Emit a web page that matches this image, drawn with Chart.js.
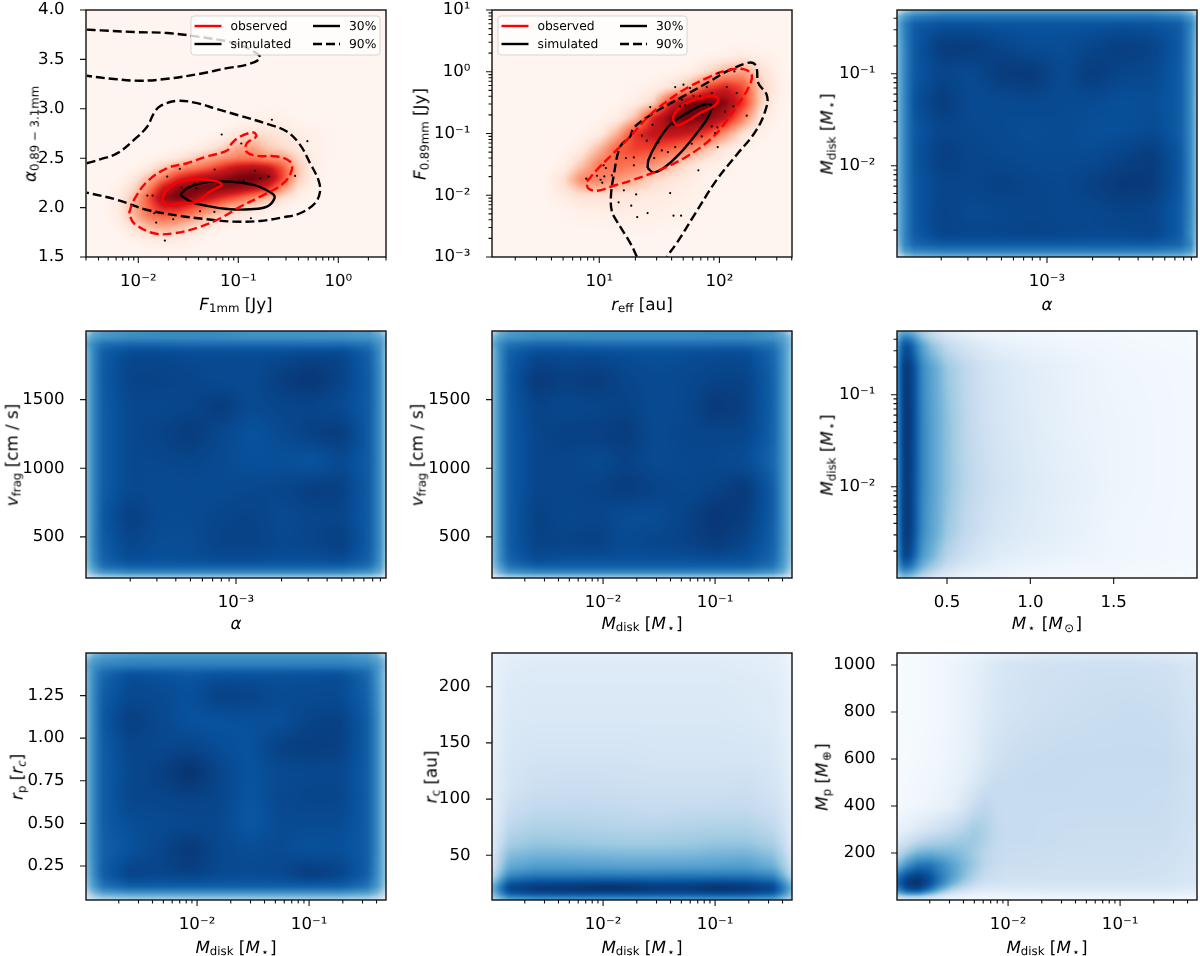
<!DOCTYPE html>
<html><head><meta charset="utf-8">
<script src="https://cdn.jsdelivr.net/npm/chart.js@4"></script>
<style>
html,body{margin:0;padding:0;background:#fff;width:1200px;height:956px;overflow:hidden}
canvas{position:absolute;display:block}
.t{position:absolute;font:16.8px "DejaVu Sans",sans-serif;text-rendering:geometricPrecision;color:#000;white-space:nowrap;line-height:1;transform:translate(-50%,-50%)}
.t.r{transform:translate(-50%,-50%) rotate(-90deg)}
.t sub{font-size:.7em;vertical-align:-.22em;line-height:0}
.t sub.s{padding:0 .12em}
</style></head><body>
<script>
const REDS=['#fff5f0','#fee0d2','#fcbba1','#fc9272','#fb6a4a','#ef3b2c','#cb181d','#a50f15','#67000d'];
const BLUES=['#f7fbff','#deebf7','#c6dbef','#9ecae1','#6baed6','#4292c6','#2171b5','#08519c','#08306b'];

/* ---------- axis knots of the density grids (log10 where the axis is logarithmic) ---------- */
const LOG_ALPHA_KNOTS=[-3.99,-3.94,-3.88,-3.7,-3.5,-3.3,-3.1,-2.9,-2.7,-2.5,-2.3,-2.12,-2.05,-2.01];
const LOG_MDISK_X_KNOTS=[-2.99,-2.92,-2.84,-2.6,-2.33,-2.06,-1.8,-1.53,-1.26,-.99,-.72,-.48,-.39,-.32];
const LOG_MDISK_Y_KNOTS=[-.32,-.38,-.46,-.7,-1,-1.3,-1.6,-1.9,-2.2,-2.5,-2.75,-2.86,-2.93,-2.99];
const VFRAG_KNOTS=[1995,1950,1900,1850,1650,1450,1250,1050,850,650,450,330,280,240,205];
const RP_KNOTS=[1.495,1.46,1.42,1.38,1.25,1.1,.95,.8,.65,.5,.35,.2,.13,.1,.075,.055];

/* ---------- panel 1: F1mm / spectral index ---------- */
const P1_LOGF=[-2.5,-2.35,-2.2,-2.05,-1.9,-1.75,-1.6,-1.45,-1.3,-1.15,-1,-.85,-.7,-.55,-.4,-.25,-.1,.05,.2,.35,.5];
const P1_IDX=[4,3.3,3,2.9,2.8,2.7,2.6,2.5,2.4,2.3,2.2,2.1,2,1.9,1.8,1.7,1.6,1.5];
const P1_Z=[[],[],
[0,0,0,0,0,0,0,0,0,0,0,1,1,1],
[0,0,0,0,0,0,0,0,0,0,1,2,3,2,1],
[0,0,0,0,0,0,0,0,0,1,4,6,8,6,3,2,1],
[0,0,0,0,0,0,0,0,2,5,14,20,14,10,6,3,1],
[0,0,0,0,0,0,1,3,8,18,32,34,20,14,8,3,1],
[0,0,0,0,1,3,8,18,30,38,44,44,38,34,15,4,1],
[0,0,0,1,6,22,38,46,54,70,82,86,80,56,22,4,1],
[0,0,1,6,24,46,68,80,88,92,98,100,94,60,20,3],
[0,0,3,14,40,76,92,98,98,96,92,84,68,38,10,2],
[0,0,5,22,56,92,98,92,80,66,54,38,26,12,3],
[0,0,6,28,52,72,72,58,46,34,22,12,6,2],
[0,0,4,24,44,50,46,36,22,12,6,2],
[0,0,2,10,24,30,24,14,6,2],
[0,0,0,3,8,10,8,4,1],
[0,0,0,0,1,2,2,1],[]];
const P1_DOTS_LOGF=[-1.734,-1.821,-1.841,-1.651,-1.382,-1.239,-.874,-1.91,-1.857,-1.711,-1.585,-1.568,-1.435,-1.419,-1.236,-1.206,-.99,-.947,-.831,-.781,-.698,-.432,-.97,-1.166,-.664,-.309];
const P1_DOTS_IDX=[1.666,1.848,1.943,1.882,1.963,1.956,1.892,2.122,2.122,2.314,2.392,2.203,2.24,2.196,2.385,2.24,2.264,2.27,2.372,2.297,2.314,2.321,2.649,2.74,2.889,2.672];
const P1_RED90_LOGF=[-2.093,-2.043,-1.91,-1.711,-1.512,-1.312,-1.113,-1.063,-.98,-.847,-.821,-.914,-.92,-.814,-.615,-.482,-.465,-.548,-.781,-.98,-1.179,-1.379,-1.645,-1.844,-2.043,-2.093];
const P1_RED90_IDX=[1.943,2.078,2.264,2.399,2.449,2.517,2.578,2.652,2.72,2.76,2.72,2.652,2.568,2.524,2.517,2.466,2.382,2.247,2.111,2.01,1.892,1.807,1.74,1.74,1.841,1.943];
const P1_RED30_LOGF=[-1.761,-1.728,-1.611,-1.412,-1.213,-1.163,-1.279,-1.412,-1.578,-1.711,-1.761];
const P1_RED30_IDX=[2.078,2.162,2.253,2.287,2.264,2.23,2.162,2.061,2.044,2.027,2.078];
const P1_BLK30_LOGF=[-1.578,-1.512,-1.346,-1.113,-.847,-.664,-.638,-.714,-.88,-1.08,-1.312,-1.478,-1.578];
const P1_BLK30_IDX=[2.128,2.196,2.253,2.264,2.23,2.145,2.095,2.01,1.983,1.983,2.017,2.061,2.128];
const P1_BLK90A_LOGF=[-2.515,-2.375,-2.043,-1.711,-1.379,-1.047,-.847,-.781,-.914,-1.113,-1.379,-1.711,-1.977,-2.243,-2.515];
const P1_BLK90A_IDX=[3.801,3.794,3.777,3.767,3.726,3.666,3.581,3.514,3.446,3.412,3.355,3.304,3.284,3.301,3.334];
const P1_BLK90B_LOGF=[-2.515,-2.375,-2.209,-2.043,-1.91,-1.844,-1.777,-1.611,-1.412,-1.213,-.98,-.714,-.515,-.382,-.282,-.199,-.183,-.233,-.382,-.548,-.781,-1.047,-1.312,-1.578,-1.91,-2.209,-2.515];
const P1_BLK90B_IDX=[2.449,2.49,2.551,2.686,2.821,2.956,3.03,3.081,3.057,2.997,2.929,2.848,2.77,2.635,2.449,2.28,2.162,2.044,1.943,1.902,1.865,1.858,1.882,1.916,1.976,2.078,2.152];

/* ---------- panel 2: reff / F0.89mm ---------- */
const P2_LOGR=[.1,.25,.4,.55,.7,.85,1,1.15,1.3,1.45,1.6,1.75,1.9,2.05,2.2,2.35,2.5,2.6];
const P2_LOGFLUX=[1,.75,.5,.25,0,-.25,-.5,-.75,-1,-1.25,-1.5,-1.75,-2,-2.25,-2.5,-2.75,-3];
const P2_Z=[[],[],[],
[0,0,0,0,0,0,0,0,0,0,0,0,1,3,6,3,1],
[0,0,0,0,0,0,0,0,0,0,1,3,14,28,34,12,2],
[0,0,0,0,0,0,0,0,1,3,10,28,60,72,58,18,3],
[0,0,0,0,0,0,0,1,4,16,70,98,100,95,66,16,2],
[0,0,0,0,0,0,1,4,24,72,98,100,95,80,42,7,1],
[0,0,0,0,0,1,4,28,66,80,80,76,62,36,10,2],
[0,0,0,0,1,5,26,54,62,60,52,40,22,7,2],
[0,0,0,0,2,20,46,50,46,38,26,12,4,2],
[0,0,0,1,12,42,44,36,28,16,9,5,2,1],
[0,0,0,1,6,12,12,10,8,6,5,3,1],
[0,0,0,0,1,3,4,5,4,4,3,2,1],
[0,0,0,0,0,1,1,2,2,2,1,1],[],[]];
const P2_DOTS_LOGR=[.892,.981,1.011,1.042,1.036,1.055,1.105,1.025,1.205,1.161,1.266,1.307,1.316,1.402,1.59,1.618,1.681,1.825,1.288,1.288,1.222,1.355,1.396,1.443,1.493,1.424,1.457,1.521,1.571,1.632,1.618,1.673,1.715,1.632,1.687,1.784,1.839,1.895,1.936,1.853,1.853,1.77,1.983,1.964,1.986,1.936,2.047,2.061,2.116,2.144,1.992,2.125,2.227,1.701,1.756];
const P2_DOTS_LOGFLUX=[-1.732,-1.684,-1.749,-1.695,-1.516,-1.56,-1.678,-1.797,-1.921,-2.115,-2.169,-1.986,-2.353,-2.288,-1.964,-2.331,-2.331,-1.597,-1.516,-1.387,-1.398,-1.036,-1.117,-.858,-1.144,-.572,-1.398,-1.274,-1.301,-1.22,-.858,-.561,-.545,-.248,-.453,-.389,-.389,-.248,-.345,-1.047,-.696,-1.166,-.901,-.993,-1.22,-.885,-.642,-.248,-.561,-.345,-.022,.005,-.712,-.21,-.264];
const P2_RED90_LOGR=[.898,.981,1.119,1.258,1.424,1.562,1.729,1.895,2.061,2.199,2.269,2.241,2.144,2.047,1.922,1.729,1.507,1.285,1.119,.981,.906,.898];
const P2_RED90_LOGFLUX=[-1.775,-1.587,-1.317,-1.047,-.696,-.48,-.264,-.103,.022,.043,-.049,-.264,-.561,-.831,-1.101,-1.371,-1.587,-1.749,-1.846,-1.927,-1.883,-1.775];
const P2_RED30_LOGR=[1.612,1.623,1.701,1.839,1.95,1.992,1.95,1.839,1.729,1.645,1.612];
const P2_RED30_LOGFLUX=[-.777,-.696,-.534,-.426,-.389,-.453,-.561,-.669,-.804,-.869,-.777];
const P2_BLK30_LOGR=[1.402,1.41,1.479,1.59,1.729,1.853,1.931,1.909,1.812,1.673,1.535,1.452,1.402];
const P2_BLK30_LOGFLUX=[-1.56,-1.425,-1.155,-.858,-.669,-.545,-.534,-.723,-.993,-1.317,-1.56,-1.63,-1.56];
const P2_BLK90_LOGR=[1.313,1.258,1.147,1.105,1.097,1.119,1.175,1.258,1.285,1.452,1.673,1.895,2.061,2.227,2.283,2.31,2.324,2.393,2.393,2.31,2.144,1.978,1.784,1.645,1.562];
const P2_BLK90_LOGFLUX=[-2.995,-2.774,-2.423,-2.261,-2.018,-1.695,-1.209,-1.047,-.912,-.669,-.426,-.183,.005,.14,.14,.059,-.183,-.372,-.561,-.939,-1.344,-1.749,-2.342,-2.774,-2.995];

/* ---------- panel 3 ---------- */
const P3_Z=[
[22,40,52,58,58,58,58,58,58,58,58,52,40,22],
[42,60,70,75,75,75,75,75,75,75,75,70,60,42],
[50,70,84,88,88,87,87,87,87,88,87,84,68,48],
[46,68,85,96,96,92,89,89,92,95,93,85,66,44],
[46,68,85,92,90,96,97,90,96,92,91,84,66,44],
[46,68,88,96,90,90,91,90,90,88,89,84,66,42],
[46,68,85,92,91,90,89,90,88,88,90,84,66,44],
[46,68,86,95,92,91,90,90,90,93,96,86,66,44],
[46,68,85,92,92,94,92,91,94,97,96,86,66,44],
[46,68,85,93,90,91,92,91,91,93,92,84,66,44],
[46,68,84,93,92,92,93,92,91,91,93,84,64,42],
[40,68,80,84,84,84,84,84,84,84,84,80,68,38],
[34,58,66,70,70,70,70,70,70,70,70,66,58,34],
[20,38,46,50,50,50,50,50,50,50,50,46,38,18]];

/* ---------- panel 4 ---------- */
const P4_Z=[
[30,50,58,62,65,65,65,62,62,62,60,58,46,30],
[45,58,62,66,66,66,66,64,64,64,64,62,56,44],
[52,68,78,80,80,78,78,78,78,78,78,74,62,46],
[46,68,84,91,91,90,90,90,90,92,92,82,64,42],
[46,68,85,93,93,92,90,90,95,98,93,84,66,42],
[46,68,84,91,91,92,96,90,92,92,90,84,66,42],
[46,68,84,91,93,96,91,87,90,94,96,84,66,42],
[46,68,84,91,91,92,90,88,88,86,90,84,66,42],
[46,68,84,91,90,90,90,91,92,95,94,84,66,42],
[46,68,86,95,90,90,92,93,90,92,92,84,66,42],
[46,68,84,92,89,89,93,93,91,92,95,84,66,42],
[44,66,82,90,88,89,90,90,89,89,90,82,64,40],
[40,60,76,82,82,82,82,82,82,82,82,76,60,38],
[32,50,60,66,66,66,66,66,66,66,66,60,50,30],
[16,28,34,38,38,38,38,38,38,38,38,34,28,14]];

/* ---------- panel 5 ---------- */
const P5_Z=[
[30,48,58,62,62,64,64,64,64,66,66,60,48,28],
[44,58,62,66,66,66,66,66,66,66,66,62,56,42],
[50,66,76,80,80,78,78,78,78,78,78,74,60,44],
[44,66,83,90,90,90,89,88,89,90,90,80,62,42],
[44,66,85,97,94,96,92,90,91,93,93,82,62,42],
[44,66,84,93,91,92,93,90,91,97,94,82,62,42],
[44,66,84,92,94,94,96,90,92,92,92,82,62,42],
[44,66,84,92,92,90,93,90,91,91,89,80,62,42],
[44,66,84,92,92,93,96,93,91,93,97,84,62,42],
[44,66,84,94,91,92,89,89,93,98,95,84,62,42],
[44,66,84,93,93,94,90,92,93,96,92,82,62,42],
[42,64,82,90,88,88,88,88,88,89,88,80,60,40],
[38,58,74,82,82,82,82,82,82,82,82,74,58,36],
[30,48,60,66,66,66,66,66,66,66,66,60,48,30],
[14,26,34,38,38,38,38,38,38,38,38,34,26,14]];

/* ---------- panel 6 ---------- */
const MSTAR_KNOTS=[.205,.22,.25,.28,.31,.35,.4,.45,.5,.6,.7,.8,1,1.25,1.5,2];
const P6_LOGM=[-.32,-.38,-.46,-.7,-1.3,-2,-2.5,-2.75,-2.86,-2.93,-2.99];
const P6_Z=[
[35,50,52,50,44,35,26,18,14,8,5,4,3,2,1,1],
[45,65,72,68,58,42,32,24,18,12,8,6,4,3,2,1],
[55,78,88,85,72,56,42,34,26,18,13,9,6,4,3,1],
[60,86,97,95,85,66,56,48,38,28,21,16,11,7,4,2],
[60,85,98,96,86,68,58,50,42,29,22,17,12,7,5,2],
[60,85,97,95,85,68,58,50,42,30,24,19,13,9,5,2],
[60,85,97,95,84,66,56,48,38,27,21,16,12,8,4,2],
[58,82,94,90,78,60,50,40,30,22,16,12,9,6,4,2],
[50,72,80,76,64,50,40,32,24,16,12,9,6,4,3,1],
[40,56,62,58,50,38,30,22,16,10,8,6,4,3,2,1],
[25,36,40,38,32,24,18,12,10,6,4,3,2,1,1,0]];

/* ---------- panel 7 ---------- */
const P7_Z=[
[30,46,54,58,60,60,60,60,60,60,60,56,46,28],
[44,58,62,66,66,66,66,66,66,66,66,62,56,42],
[50,64,70,72,72,72,72,72,72,72,72,70,62,46],
[46,66,80,90,88,86,88,88,88,89,90,80,62,42],
[46,68,84,91,90,88,94,93,90,90,90,82,64,42],
[46,68,86,95,91,87,87,88,88,93,94,84,66,42],
[46,68,84,92,91,92,89,87,94,95,94,84,66,42],
[46,68,84,91,94,100,92,87,90,91,91,84,66,42],
[46,68,84,92,92,93,92,86,91,92,92,84,66,42],
[46,68,84,89,90,91,91,85,90,90,90,84,66,42],
[46,68,82,87,92,97,91,89,90,87,88,84,66,42],
[44,66,84,94,92,94,91,90,91,97,93,84,64,42],
[38,60,76,84,84,84,84,84,84,84,84,76,60,38],
[30,50,62,68,68,68,68,68,68,68,68,62,50,30],
[22,38,46,50,50,50,50,50,50,50,50,46,38,22],
[12,24,32,36,36,36,36,36,36,36,36,32,24,12]];

/* ---------- panel 8 ---------- */
const RC_KNOTS=[229,222,200,170,140,110,90,75,60,50,40,33,27,22,18,14,12,10.5];
const P8_Z=[
[5,7,9,10,10,10,10,10,10,10,10,9,7,5],
[6,9,11,12,12,12,12,12,12,12,11,10,8,6],
[7,10,13,14,14,14,14,14,14,14,13,12,10,7],
[7,11,14,15,15,15,15,15,15,15,14,13,10,8],
[8,12,16,18,18,18,18,17,17,17,17,15,12,8],
[9,13,18,22,23,23,22,21,21,21,22,18,14,9],
[10,15,23,27,27,27,26,25,26,26,26,22,17,11],
[11,18,28,32,32,31,30,30,31,32,32,27,20,12],
[13,24,35,40,39,38,37,37,38,40,40,34,25,14],
[15,30,44,48,48,47,46,46,46,48,49,42,31,17],
[19,36,52,58,58,57,56,56,56,57,58,50,37,22],
[25,44,64,70,70,70,69,69,70,70,70,64,46,28],
[36,58,80,86,86,87,87,85,86,87,86,80,60,40],
[48,72,92,97,98,100,100,97,96,100,98,92,72,50],
[46,70,90,96,97,97,97,95,95,97,96,90,70,48],
[38,58,76,80,81,81,81,80,80,81,80,76,58,40],
[32,48,62,68,68,68,68,68,68,68,68,62,48,34],
[24,36,48,52,52,52,52,52,52,52,52,48,36,26]];

/* ---------- panel 9 ---------- */
const P9_LOGM=[-3,-2.9,-2.8,-2.7,-2.6,-2.5,-2.4,-2.3,-2.2,-2.1,-2,-1.8,-1.5,-1.2,-.9,-.6,-.32];
const MP_KNOTS=[1045,1025,1000,800,600,500,400,300,250,200,150,100,70,40,20,5];
const P9_Z=[
[0,0,1,1,2,3,4,5,7,9,10,12,13,14,14,13,11],
[0,1,1,2,3,4,6,8,10,12,14,16,17,17,17,16,13],
[0,1,1,2,3,5,7,9,12,15,17,19,20,21,21,20,16],
[0,1,1,2,3,5,7,10,13,16,18,20,22,23,24,23,18],
[1,1,2,3,4,6,8,11,16,20,22,24,25,25,25,25,20],
[1,2,3,4,5,7,10,15,21,24,24,25,25,24,24,24,20],
[2,3,4,5,7,10,16,24,28,25,24,24,24,24,24,23,20],
[7,10,14,18,22,26,30,36,32,26,24,24,23,23,23,23,19],
[14,20,28,32,34,36,38,38,32,26,24,24,23,22,22,22,18],
[25,38,48,50,48,46,42,36,28,25,23,23,22,22,22,21,18],
[42,62,74,74,66,56,46,38,28,24,22,22,21,21,21,20,17],
[72,90,96,88,72,58,44,32,24,22,20,20,20,20,20,19,16],
[78,98,100,90,70,50,36,26,20,19,18,18,18,18,18,18,15],
[62,86,90,72,48,30,20,14,12,12,12,12,13,13,13,13,11],
[36,50,50,36,22,12,8,6,5,6,6,7,7,7,7,7,6],
[10,12,12,9,6,4,3,2,2,2,2,2,3,3,3,3,2]];

/* ---------- text ---------- */
const LEGEND_LABELS=['observed','simulated','30%','90%'];
const P1_Y_TICKS=['1.5','2.0','2.5','3.0','3.5','4.0'];
const VFRAG_TICKS=['500','1000','1500'];
const MSTAR_TICKS=['0.5','1.0','1.5'];
const RP_TICKS=['0.25','0.50','0.75','1.00','1.25'];
const RC_TICKS=['50','100','150','200'];
const MP_TICKS=['200','400','600','800','1000'];
const MDISK='<i>M</i><sub>disk</sub> [<i>M</i><sub class="s">⋆</sub>]';
const ALPHA='<i>α</i>';
const VFRAG='<i>v</i><sub>frag</sub> [cm / s]';

const pow=a=>a.map(v=>Math.pow(10,v));
const SUP={'-':'⁻','0':'⁰','1':'¹','2':'²','3':'³','4':'⁴','5':'⁵','6':'⁶','7':'⁷','8':'⁸','9':'⁹'};
function logLabel(v){const e=Math.log10(v),r=Math.round(e);if(Math.abs(e-r)>1e-6)return '';return '10'+String(r).split('').map(c=>SUP[c]).join('');}
function logTicks(min,max){const out=[];for(let e=Math.floor(Math.log10(min));e<=Math.ceil(Math.log10(max));e++)for(let d=1;d<=9;d++){const v=d*Math.pow(10,e);if(v>=min*(1-1e-9)&&v<=max*(1+1e-9))out.push(v);}return out;}

function line(xs,ys,color,dashed,label){return{type:'scatter',label,data:xs.map((x,i)=>({x,y:ys[i]})),showLine:true,pointRadius:0,borderColor:color,backgroundColor:color,borderWidth:2.4,borderDash:dashed?[9,4]:[],tension:.38,fill:false};}
function dots(xs,ys){return{type:'scatter',label:'sources',data:xs.map((x,i)=>({x,y:ys[i]})),pointRadius:1.1,pointBorderWidth:0,backgroundColor:'#000',borderColor:'#000',showLine:false};}
function heat(xs,ys,rows,cmap,soft){const data=[];ys.forEach((y,j)=>xs.forEach((x,i)=>data.push({x,y,v:(rows[j][i]||0)/100})));return{type:'scatter',label:'density',data,gridX:xs.length,gridY:ys.length,cmap,soft,pointRadius:0,showLine:false};}

function hex(c){return[parseInt(c.slice(1,3),16),parseInt(c.slice(3,5),16),parseInt(c.slice(5,7),16)];}
const heatPlugin={id:'heat',beforeDraw(chart){chart.ctx.textRendering='geometricPrecision';},beforeDatasetsDraw(chart){
  const ds=chart.data.datasets.find(d=>d.gridX);if(!ds)return;
  const a=chart.chartArea,W=Math.round(a.right-a.left),H=Math.round(a.bottom-a.top);
  const sx=chart.scales.x,sy=chart.scales.y,nx=ds.gridX,ny=ds.gridY;
  const px=[],py=[];for(let i=0;i<nx;i++)px.push(sx.getPixelForValue(ds.data[i].x)-a.left);
  for(let j=0;j<ny;j++)py.push(sy.getPixelForValue(ds.data[j*nx].y)-a.top);
  const seg=(arr,p)=>{if(p<=arr[0])return[0,0];if(p>=arr[arr.length-1])return[arr.length-2,1];let k=0;while(p>arr[k+1])k++;return[k,(p-arr[k])/(arr[k+1]-arr[k])];};
  let f=new Float32Array(W*H);
  for(let yy=0;yy<H;yy++){const[j,t]=seg(py,yy+.5);for(let xx=0;xx<W;xx++){const[i,u]=seg(px,xx+.5);
    const g=(jj,ii)=>ds.data[jj*nx+ii].v;
    f[yy*W+xx]=(1-t)*((1-u)*g(j,i)+u*g(j,i+1))+t*((1-u)*g(j+1,i)+u*g(j+1,i+1));}}
  const orig=f.slice(),R=ds.soft;
  for(let pass=0;pass<2;pass++){
    const g=new Float32Array(W*H);
    for(let y=0;y<H;y++)for(let x=0;x<W;x++){let s=0;for(let d=-R;d<=R;d++)s+=f[y*W+Math.min(W-1,Math.max(0,x+d))];g[y*W+x]=s/(2*R+1);}
    for(let y=0;y<H;y++)for(let x=0;x<W;x++){let s=0;for(let d=-R;d<=R;d++)s+=g[Math.min(H-1,Math.max(0,y+d))*W+x];f[y*W+x]=s/(2*R+1);}
  }
  if(R>2)for(let y=0;y<H;y++)for(let x=0;x<W;x++){const e=Math.min(x,y,W-1-x,H-1-y),m=Math.min(1,Math.max(0,(e-4)/20));f[y*W+x]=orig[y*W+x]*(1-m)+f[y*W+x]*m;}
  const stops=ds.cmap.map(hex),off=document.createElement('canvas');off.width=W;off.height=H;
  const octx=off.getContext('2d'),im=octx.createImageData(W,H);
  for(let k=0;k<W*H;k++){const q=Math.min(.9999,Math.max(0,f[k]))*(stops.length-1),b=Math.floor(q),r=q-b;
    for(let c=0;c<3;c++)im.data[k*4+c]=stops[b][c]+(stops[b+1][c]-stops[b][c])*r;im.data[k*4+3]=255;}
  octx.putImageData(im,0,0);
  chart.ctx.drawImage(off,a.left,a.top,a.right-a.left,a.bottom-a.top);
}};

const framePlugin={id:'frame',afterDraw(chart){
  const c=chart.ctx,a=chart.chartArea;c.save();c.strokeStyle='#111';c.lineWidth=1.4;
  c.strokeRect(a.left,a.top,a.right-a.left,a.bottom-a.top);
  const sx=chart.scales.x,sy=chart.scales.y;c.lineWidth=1.1;c.beginPath();
  sx.ticks.forEach(t=>{const l=t.major?6:3.5,p=sx.getPixelForValue(t.value);c.moveTo(p,a.bottom);c.lineTo(p,a.bottom+l);});
  sy.ticks.forEach(t=>{const l=t.major?6:3.5,p=sy.getPixelForValue(t.value);c.moveTo(a.left,p);c.lineTo(a.left-l,p);});
  c.stroke();c.restore();
}};
const legendPlugin={id:'mplLegend',afterDatasetsDraw(chart,args,o){
  if(!o||!o.boxLeft)return;const c=chart.ctx,a=chart.chartArea,L=a.left+o.boxLeft,T=a.top+6,W=189,H=39;
  c.save();c.beginPath();c.roundRect(L,T,W,H,3);c.fillStyle='rgba(255,255,255,.8)';c.fill();c.strokeStyle='rgba(204,204,204,.8)';c.lineWidth=1;c.stroke();
  c.font='12.3px "DejaVu Sans"';c.textBaseline='middle';c.textAlign='left';c.fillStyle='#000';
  const items=[[3.5,10,'#f00',[],0],[3.5,28,'#000',[],1],[122,10,'#000',[],2],[122,28,'#000',[9,4],3]];
  items.forEach(([hx,hy,col,dash,i])=>{c.strokeStyle=col;c.lineWidth=2.4;c.setLineDash(dash);c.beginPath();c.moveTo(L+hx,T+hy);c.lineTo(L+hx+27,T+hy);c.stroke();c.setLineDash([]);c.fillText(LEGEND_LABELS[i],L+hx+36,T+hy+.5);});
  c.restore();
}};

const FONT={family:'"DejaVu Sans"',size:16.6};
function axis(cfg,isX){
  return {type:cfg.log?'logarithmic':'linear',min:cfg.min,max:cfg.max,position:isX?'bottom':'left',bounds:'data',
    grid:{display:false},border:{display:false},
    ticks:{autoSkip:false,maxRotation:0,minRotation:0,padding:isX?7:13.5,color:'#000',font:FONT,
      callback(v){if(cfg.log)return logLabel(v);const s=cfg.ticks.find(t=>Number(t)===v);return s===undefined?'':s;}},
    afterBuildTicks(s){const vals=cfg.log?logTicks(cfg.min,cfg.max):cfg.ticks.map(Number);
      s.ticks=vals.map(v=>({value:v,major:cfg.log?Math.abs(Math.log10(v)-Math.round(Math.log10(v)))<1e-6:true}));},
    afterFit(s){if(isX)s.height=cfg.room;else s.width=cfg.room;s.paddingTop=s.paddingBottom=s.paddingLeft=s.paddingRight=0;}};
}

const MDISK_X={log:true,min:.00102,max:.486,room:60};
const MDISK_Y={log:true,min:.00102,max:.492,room:80};
const ALPHA_X={log:true,min:1.02e-4,max:9.8e-3,room:60};
const V_Y={log:false,min:200,max:2000,ticks:VFRAG_TICKS,room:80};

const PANELS=[
 {l:86,t:10,x:{log:true,min:.003,max:3,room:60},y:{log:false,min:1.5,max:4,ticks:P1_Y_TICKS,room:80},xt:'<i>F</i><sub>1mm</sub> [Jy]',yt:'<i>α</i><sub>0.89 − 3.1mm</sub>',ytx:30,legend:105,
  ds:[heat(pow(P1_LOGF),P1_IDX,P1_Z,REDS,2),dots(pow(P1_DOTS_LOGF),P1_DOTS_IDX),
   line(pow(P1_RED90_LOGF),P1_RED90_IDX,'#f00',true,'observed 90%'),line(pow(P1_RED30_LOGF),P1_RED30_IDX,'#f00',false,'observed 30%'),
   line(pow(P1_BLK90A_LOGF),P1_BLK90A_IDX,'#000',true,'simulated 90%'),line(pow(P1_BLK90B_LOGF),P1_BLK90B_IDX,'#000',true,'simulated 90%'),line(pow(P1_BLK30_LOGF),P1_BLK30_IDX,'#000',false,'simulated 30%')]},
 {l:492,t:10,x:{log:true,min:1.28,max:402,room:60},y:{log:true,min:.001,max:10,room:80},xt:'<i>r</i><sub>eff</sub> [au]',yt:'<i>F</i><sub>0.89mm</sub> [Jy]',ytx:420,legend:6,
  ds:[heat(pow(P2_LOGR),pow(P2_LOGFLUX),P2_Z,REDS,2),dots(pow(P2_DOTS_LOGR),pow(P2_DOTS_LOGFLUX)),
   line(pow(P2_RED90_LOGR),pow(P2_RED90_LOGFLUX),'#f00',true,'observed 90%'),line(pow(P2_RED30_LOGR),pow(P2_RED30_LOGFLUX),'#f00',false,'observed 30%'),
   line(pow(P2_BLK90_LOGR),pow(P2_BLK90_LOGFLUX),'#000',true,'simulated 90%'),line(pow(P2_BLK30_LOGR),pow(P2_BLK30_LOGFLUX),'#000',false,'simulated 30%')]},
 {l:897,t:10,x:ALPHA_X,y:MDISK_Y,xt:ALPHA,yt:MDISK,ytx:827,ds:[heat(pow(LOG_ALPHA_KNOTS),pow(LOG_MDISK_Y_KNOTS),P3_Z,BLUES,5)]},
 {l:86,t:331,x:ALPHA_X,y:V_Y,xt:ALPHA,yt:VFRAG,ytx:12,ds:[heat(pow(LOG_ALPHA_KNOTS),VFRAG_KNOTS,P4_Z,BLUES,5)]},
 {l:492,t:331,x:MDISK_X,y:V_Y,xt:MDISK,yt:VFRAG,ytx:417,ds:[heat(pow(LOG_MDISK_X_KNOTS),VFRAG_KNOTS,P5_Z,BLUES,5)]},
 {l:897,t:331,x:{log:false,min:.2,max:2,ticks:MSTAR_TICKS,room:60},y:MDISK_Y,xt:'<i>M</i><sub class="s">⋆</sub> [<i>M</i><sub class="s">⊙</sub>]',yt:MDISK,ytx:827,ds:[heat(MSTAR_KNOTS,pow(P6_LOGM),P6_Z,BLUES,2)]},
 {l:86,t:653,x:MDISK_X,y:{log:false,min:.05,max:1.5,ticks:RP_TICKS,room:80},xt:MDISK,yt:'<i>r</i><sub>p</sub> [<i>r</i><sub><i>c</i></sub>]',ytx:17,ds:[heat(pow(LOG_MDISK_X_KNOTS),RP_KNOTS,P7_Z,BLUES,5)]},
 {l:492,t:653,x:MDISK_X,y:{log:false,min:10.2,max:230,ticks:RC_TICKS,room:80},xt:MDISK,yt:'<i>r</i><sub>c</sub> [au]',ytx:431,ds:[heat(pow(LOG_MDISK_X_KNOTS),RC_KNOTS,P8_Z,BLUES,2)]},
 {l:897,t:653,x:MDISK_X,y:{log:false,min:0,max:1051,ticks:MP_TICKS,room:80},xt:MDISK,yt:'<i>M</i><sub>p</sub> [<i>M</i><sub class="s">⊕</sub>]',ytx:822,ds:[heat(pow(P9_LOGM),MP_KNOTS,P9_Z,BLUES,2)]}
];

const XT_Y=[304,623,947];
function addText(html,x,y,rot){const d=document.createElement('div');d.className='t'+(rot?' r':'');d.innerHTML=html;d.style.left=x+'px';d.style.top=y+'px';document.body.appendChild(d);}
PANELS.forEach((p,k)=>{
  const W=300,H=247,L=80,T=10,R=3,B=60;
  const cv=document.createElement('canvas');cv.style.left=(p.l-L)+'px';cv.style.top=(p.t-T)+'px';cv.style.width=(W+L+R)+'px';cv.style.height=(H+T+B)+'px';cv.width=W+L+R;cv.height=H+T+B;document.body.appendChild(cv);
  new Chart(cv,{type:'scatter',data:{datasets:p.ds},
    options:{responsive:false,animation:false,events:[],layout:{autoPadding:false,padding:{left:0,top:T,right:R,bottom:0}},
      plugins:{legend:{display:false},tooltip:{enabled:false},title:{display:false},mplLegend:{boxLeft:p.legend||0}},
      scales:{x:axis(p.x,true),y:axis(p.y,false)}},
    plugins:[heatPlugin,legendPlugin,framePlugin]});
  addText(p.xt,p.l+W/2,XT_Y[Math.floor(k/3)],false);
  addText(p.yt,p.ytx,p.t+H/2,true);
});
</script></body></html>
